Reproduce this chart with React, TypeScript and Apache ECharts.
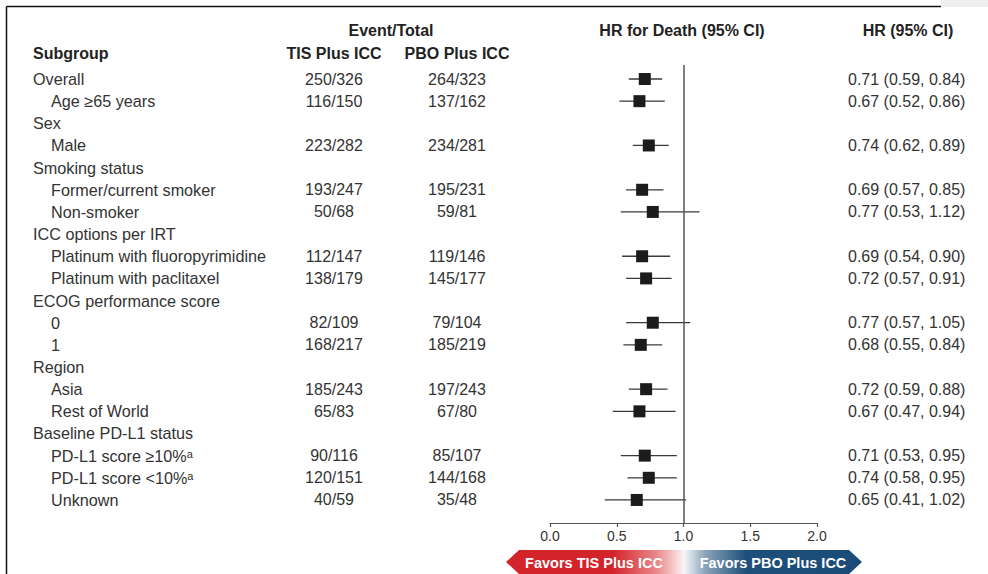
import React, { useEffect, useRef } from "react";
import * as echarts from "echarts";

// ---------- data ----------
const subgroupLabels = [
  "Overall",
  "Age ≥65 years",
  "Sex",
  "Male",
  "Smoking status",
  "Former/current smoker",
  "Non-smoker",
  "ICC options per IRT",
  "Platinum with fluoropyrimidine",
  "Platinum with paclitaxel",
  "ECOG performance score",
  "0",
  "1",
  "Region",
  "Asia",
  "Rest of World",
  "Baseline PD-L1 status",
  "PD-L1 score ≥10%ᵃ",
  "PD-L1 score <10%ᵃ",
  "Unknown",
];
const subgroupLevel = [0, 1, 0, 1, 0, 1, 1, 0, 1, 1, 0, 1, 1, 0, 1, 1, 0, 1, 1, 1];
const tisEvents = [
  "250/326", "116/150", "", "223/282", "", "193/247", "50/68", "", "112/147", "138/179",
  "", "82/109", "168/217", "", "185/243", "65/83", "", "90/116", "120/151", "40/59",
];
const pboEvents = [
  "264/323", "137/162", "", "234/281", "", "195/231", "59/81", "", "119/146", "145/177",
  "", "79/104", "185/219", "", "197/243", "67/80", "", "85/107", "144/168", "35/48",
];
const hr = [0.71, 0.67, null, 0.74, null, 0.69, 0.77, null, 0.69, 0.72, null, 0.77, 0.68, null, 0.72, 0.67, null, 0.71, 0.74, 0.65];
const ciLower = [0.59, 0.52, null, 0.62, null, 0.57, 0.53, null, 0.54, 0.57, null, 0.57, 0.55, null, 0.59, 0.47, null, 0.53, 0.58, 0.41];
const ciUpper = [0.84, 0.86, null, 0.89, null, 0.85, 1.12, null, 0.9, 0.91, null, 1.05, 0.84, null, 0.88, 0.94, null, 0.95, 0.95, 1.02];
const referenceHR = 1;

// ---------- layout constants ----------
const FONT = '"Liberation Sans", Arial, sans-serif';
const GRID_TOP = 65;
const GRID_H = 458;
const Y_MIN = -0.632;
const Y_MAX = 20.04;
const LABEL_X = [33, 51];
const TIS_X = 334;
const PBO_X = 457;
const HR_X = 848;
const TEXT_COLOR = "#333";

function textSeries(name: string, data: any[], texts: string[], align: string, size = 16) {
  return {
    type: "custom",
    name,
    xAxisIndex: 1,
    yAxisIndex: 1,
    silent: true,
    data,
    renderItem: (params: any, api: any) => {
      const p = api.coord([api.value(0), api.value(1)]);
      return {
        type: "text",
        style: {
          text: texts[params.dataIndex],
          x: p[0],
          y: p[1],
          align,
          verticalAlign: "middle",
          font: `${size}px ${FONT}`,
          fill: TEXT_COLOR,
        },
      };
    },
  };
}

export default function App() {
  const ref = useRef<HTMLDivElement>(null);
  useEffect(() => {
    if (!ref.current) return;
    const chart = echarts.init(ref.current, null, { renderer: "svg" });

    const labelData = subgroupLabels.map((_, i) => [LABEL_X[subgroupLevel[i]], i]);
    const tisIdx = tisEvents.map((t, i) => (t ? i : -1)).filter((i) => i >= 0);
    const pboIdx = pboEvents.map((t, i) => (t ? i : -1)).filter((i) => i >= 0);
    const hrIdx = hr.map((v, i) => (v != null ? i : -1)).filter((i) => i >= 0);

    const hrTexts = hrIdx.map(
      (i) => `${(hr[i] as number).toFixed(2)} (${(ciLower[i] as number).toFixed(2)}, ${(ciUpper[i] as number).toFixed(2)})`
    );

    const yAxisBase = {
      type: "value",
      inverse: true,
      min: Y_MIN,
      max: Y_MAX,
      show: false,
    };

    const option: any = {
      animation: false,
      backgroundColor: "#ffffff",
      grid: [
        { left: 550, width: 267, top: GRID_TOP, height: GRID_H },
        { left: 0, width: 988, top: GRID_TOP, height: GRID_H },
      ],
      xAxis: [
        {
          type: "value",
          gridIndex: 0,
          position: "bottom",
          min: 0,
          max: 2,
          interval: 0.5,
          axisLine: { show: true, onZero: false, lineStyle: { color: "#555", width: 1.2 } },
          axisTick: { show: true, length: 4, lineStyle: { color: "#555", width: 1.2 } },
          axisLabel: {
            color: TEXT_COLOR,
            fontSize: 14,
            fontFamily: FONT,
            margin: 6,
            formatter: (v: number) => v.toFixed(1),
          },
          splitLine: { show: false },
        },
        { type: "value", gridIndex: 1, min: 0, max: 988, show: false },
      ],
      yAxis: [
        { ...yAxisBase, gridIndex: 0 },
        { ...yAxisBase, gridIndex: 1 },
      ],
      series: [
        {
          type: "custom",
          name: "CI",
          xAxisIndex: 0,
          yAxisIndex: 0,
          silent: true,
          data: hrIdx.map((i) => [ciLower[i], ciUpper[i], i]),
          renderItem: (params: any, api: any) => {
            const a = api.coord([api.value(0), api.value(2)]);
            const b = api.coord([api.value(1), api.value(2)]);
            return {
              type: "line",
              shape: { x1: a[0], y1: a[1], x2: b[0], y2: b[1] },
              style: { stroke: "#3a3a3a", lineWidth: 1.3 },
            };
          },
          z: 2,
        },
        {
          type: "scatter",
          name: "HR",
          xAxisIndex: 0,
          yAxisIndex: 0,
          symbol: "rect",
          symbolSize: 12,
          itemStyle: { color: "#1c1c1c", opacity: 1 },
          silent: true,
          data: hrIdx.map((i) => [hr[i], i]),
          z: 3,
          markLine: {
            silent: true,
            symbol: "none",
            label: { show: false },
            lineStyle: { color: "#555", width: 1.5, type: "solid" },
            data: [{ xAxis: referenceHR }],
          },
        },
        textSeries("labels", labelData, subgroupLabels, "left", 16.2),
        textSeries("tis", tisIdx.map((i) => [TIS_X, i]), tisIdx.map((i) => tisEvents[i]), "center"),
        textSeries("pbo", pboIdx.map((i) => [PBO_X, i]), pboIdx.map((i) => pboEvents[i]), "center"),
        textSeries("hrText", hrIdx.map((i) => [HR_X, i]), hrTexts, "left"),
      ],
      graphic: [
        // frame
        { type: "rect", shape: { x: 941, y: 0, width: 47, height: 7 }, style: { fill: "#eeeeee" }, silent: true },
        { type: "line", shape: { x1: 6.5, y1: 6.5, x2: 941, y2: 6.5 }, style: { stroke: "#111", lineWidth: 1.5 }, silent: true },
        { type: "line", shape: { x1: 6.5, y1: 6.5, x2: 6.5, y2: 574 }, style: { stroke: "#111", lineWidth: 1.5 }, silent: true },
        // headers
        ...[
          { t: "Event/Total", x: 391, y: 30, a: "center" },
          { t: "HR for Death (95% CI)", x: 682, y: 30, a: "center" },
          { t: "HR (95% CI)", x: 908, y: 30, a: "center" },
          { t: "Subgroup", x: 33, y: 53, a: "left" },
          { t: "TIS Plus ICC", x: 334, y: 53, a: "center" },
          { t: "PBO Plus ICC", x: 457, y: 53, a: "center" },
        ].map((h) => ({
          type: "text",
          x: h.x,
          y: h.y,
          silent: true,
          style: {
            text: h.t,
            align: h.a,
            verticalAlign: "middle",
            font: `bold 16px ${FONT}`,
            fill: "#222",
          },
        })),
        // favors banner
        {
          type: "polygon",
          silent: true,
          shape: { points: [[506, 562], [519, 550], [684, 550], [684, 574], [519, 574]] },
          style: {
            fill: new echarts.graphic.LinearGradient(0, 0, 1, 0, [
              { offset: 0, color: "#d3242b" },
              { offset: 0.6, color: "#d3242b" },
              { offset: 0.85, color: "#e98a8d" },
              { offset: 1, color: "#fdf2f2" },
            ]),
          },
        },
        {
          type: "polygon",
          silent: true,
          shape: { points: [[684, 550], [849, 550], [862, 562], [849, 574], [684, 574]] },
          style: {
            fill: new echarts.graphic.LinearGradient(0, 0, 1, 0, [
              { offset: 0, color: "#f4f7fa" },
              { offset: 0.12, color: "#8aa3ba" },
              { offset: 0.35, color: "#1e4f7a" },
              { offset: 1, color: "#1b4c77" },
            ]),
          },
        },
        {
          type: "text",
          x: 594,
          y: 563,
          silent: true,
          style: { text: "Favors TIS Plus ICC", align: "center", verticalAlign: "middle", font: `bold 14.5px ${FONT}`, fill: "#ffffff" },
        },
        {
          type: "text",
          x: 773,
          y: 563,
          silent: true,
          style: { text: "Favors PBO Plus ICC", align: "center", verticalAlign: "middle", font: `bold 14.5px ${FONT}`, fill: "#ffffff" },
        },
      ],
    };

    chart.setOption(option);
    return () => chart.dispose();
  }, []);

  return (
    <div
      ref={ref}
      style={{ position: "absolute", left: 0, top: 0, width: 988, height: 574, background: "#fff" }}
    />
  );
}
